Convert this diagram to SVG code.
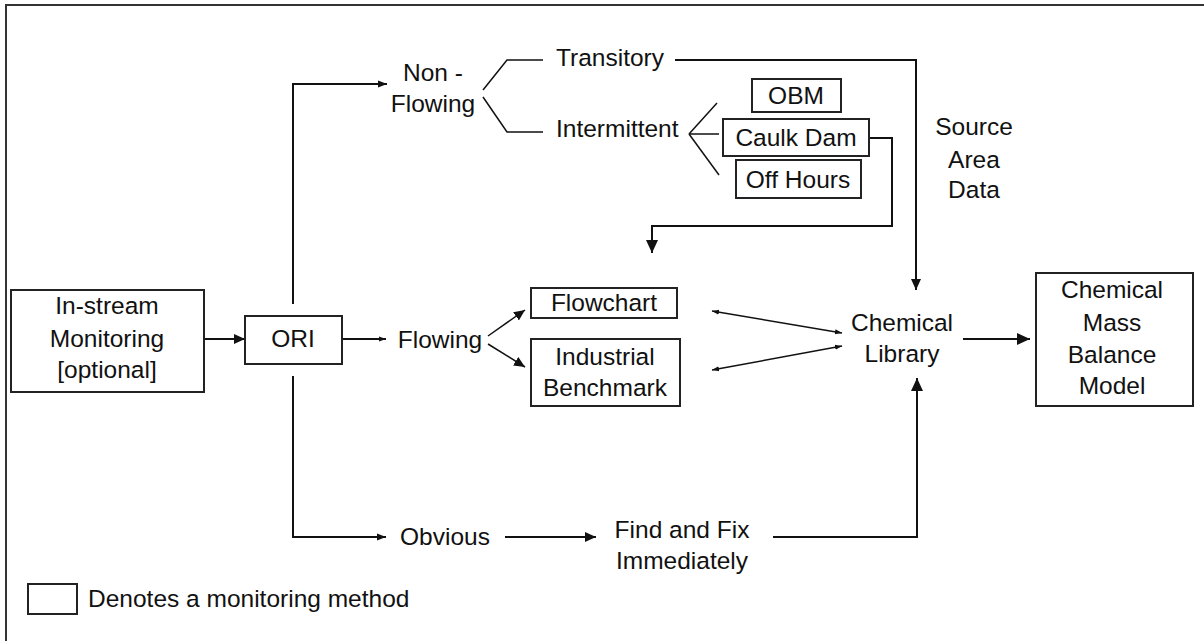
<svg xmlns="http://www.w3.org/2000/svg" width="1204" height="641" viewBox="0 0 1204 641">
<style>
text{font-family:"Liberation Sans",Arial,sans-serif;font-size:24.5px;fill:#111;text-anchor:middle}
.l{text-anchor:start}
.box{fill:#fff;stroke:#222;stroke-width:2}
.ln{fill:none;stroke:#111;stroke-width:2}
.th{fill:none;stroke:#111;stroke-width:1.5}
</style>
<defs>
<marker id="a10" markerUnits="userSpaceOnUse" markerWidth="12" markerHeight="12" viewBox="0 0 12 12" refX="11" refY="6" orient="auto"><path d="M0,1 L11,6 L0,11 Z" fill="#111"/></marker>
<marker id="a8" markerUnits="userSpaceOnUse" markerWidth="10" markerHeight="10" viewBox="0 0 10 10" refX="9" refY="5" orient="auto"><path d="M0,1.5 L9,5 L0,8.5 Z" fill="#111"/></marker>
<marker id="a6" markerUnits="userSpaceOnUse" markerWidth="8" markerHeight="8" viewBox="0 0 8 8" refX="7" refY="4" orient="auto"><path d="M0,1.5 L7,4 L0,6.5 Z" fill="#111"/></marker>
<marker id="a6s" markerUnits="userSpaceOnUse" markerWidth="8" markerHeight="8" viewBox="0 0 8 8" refX="7" refY="4" orient="auto-start-reverse"><path d="M0,1.5 L7,4 L0,6.5 Z" fill="#111"/></marker>
<marker id="a12" markerUnits="userSpaceOnUse" markerWidth="14" markerHeight="14" viewBox="0 0 14 14" refX="13" refY="7" orient="auto"><path d="M0,1 L13,7 L0,13 Z" fill="#111"/></marker>
</defs>
<rect width="1204" height="641" fill="#fff"/>
<path d="M6,641 V5 H1204" fill="none" stroke="#333" stroke-width="2"/>

<g id="connectors">
<line class="ln" x1="204" y1="339" x2="245" y2="339" marker-end="url(#a10)"/>
<polyline class="ln" points="293,304 293,84 387,84" marker-end="url(#a8)"/>
<line class="ln" x1="342" y1="339" x2="386" y2="339" marker-end="url(#a6)"/>
<polyline class="ln" points="293,376 293,537 386,537" marker-end="url(#a8)"/>
<line class="ln" x1="505" y1="537" x2="596" y2="537" marker-end="url(#a10)"/>
<polyline class="ln" points="773,537 917,537 917,378" marker-end="url(#a12)"/>
<polyline class="ln" points="675,60 916,60 916,290" marker-end="url(#a10)"/>
<polyline class="ln" points="869,138 892,138 892,226 652,226 652,253" marker-end="url(#a12)"/>
<polyline class="th" points="483,90 507,60 543,60"/>
<polyline class="th" points="483,97 507,132 543,132"/>
<line class="th" x1="689" y1="134" x2="717" y2="103"/>
<line class="th" x1="689" y1="134" x2="719" y2="134"/>
<line class="th" x1="689" y1="134" x2="719" y2="175"/>
<line class="th" x1="488" y1="336" x2="525" y2="310" marker-end="url(#a10)"/>
<line class="th" x1="488" y1="344" x2="525" y2="367" marker-end="url(#a10)"/>
<line class="th" x1="712" y1="311" x2="842" y2="333" marker-start="url(#a6s)" marker-end="url(#a6s)"/>
<line class="th" x1="712" y1="370" x2="842" y2="346" marker-start="url(#a6s)" marker-end="url(#a6s)"/>
<line class="ln" x1="963" y1="339" x2="1030" y2="339" marker-end="url(#a12)"/>
</g>

<g id="instream">
<rect class="box" x="11" y="290" width="193" height="102"/>
<text x="107" y="314">In-stream</text>
<text x="107" y="347">Monitoring</text>
<text x="107" y="378">[optional]</text>
</g>
<g id="ori">
<rect class="box" x="245" y="316" width="97" height="48"/>
<text x="293" y="347">ORI</text>
</g>
<g id="nonflowing">
<text x="433" y="81">Non -</text>
<text x="433" y="112">Flowing</text>
</g>
<g id="transitory"><text class="l" x="556" y="66">Transitory</text></g>
<g id="intermittent"><text class="l" x="556" y="137">Intermittent</text></g>
<g id="obm">
<rect class="box" x="752" y="79" width="89" height="33"/>
<text x="796" y="104">OBM</text>
</g>
<g id="caulkdam">
<rect class="box" x="723" y="119" width="146" height="37"/>
<text x="796" y="146">Caulk Dam</text>
</g>
<g id="offhours">
<rect class="box" x="736" y="160" width="125" height="38"/>
<text x="798" y="188">Off Hours</text>
</g>
<g id="sourcearea">
<text x="974" y="135">Source</text>
<text x="974" y="168">Area</text>
<text x="974" y="198">Data</text>
</g>
<g id="flowing"><text x="440" y="348">Flowing</text></g>
<g id="flowchart">
<rect class="box" x="531" y="288" width="146" height="30"/>
<text x="604" y="311">Flowchart</text>
</g>
<g id="industrial">
<rect class="box" x="531" y="339" width="149" height="67"/>
<text x="605" y="365">Industrial</text>
<text x="605" y="396">Benchmark</text>
</g>
<g id="chemlib">
<text x="902" y="331">Chemical</text>
<text x="902" y="362">Library</text>
</g>
<g id="cmb">
<rect class="box" x="1036" y="273" width="157" height="133"/>
<text x="1112" y="298">Chemical</text>
<text x="1112" y="331">Mass</text>
<text x="1112" y="363">Balance</text>
<text x="1112" y="394">Model</text>
</g>
<g id="obvious"><text x="445" y="545">Obvious</text></g>
<g id="findfix">
<text x="682" y="538">Find and Fix</text>
<text x="682" y="569">Immediately</text>
</g>
<g id="legend">
<rect class="box" x="28" y="584" width="49" height="30"/>
<text class="l" x="88" y="607">Denotes a monitoring method</text>
</g>
</svg>
